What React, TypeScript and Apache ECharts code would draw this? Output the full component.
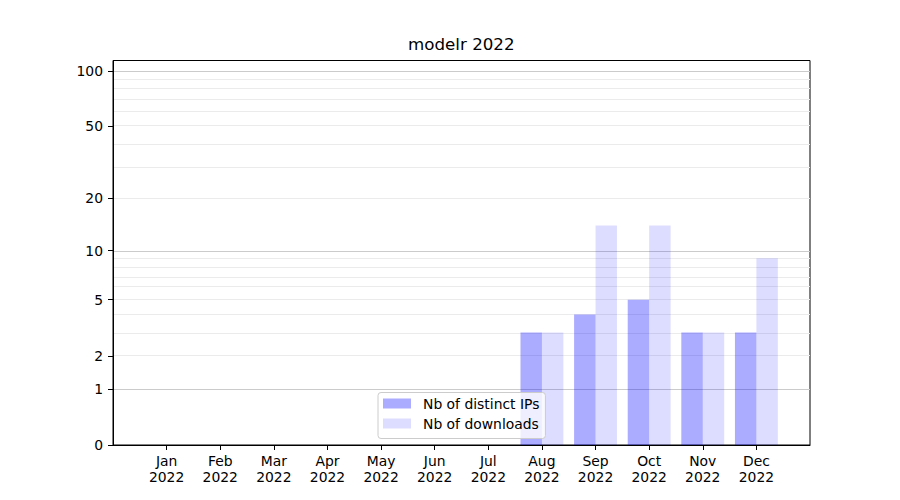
import React, { useEffect, useRef } from "react";
import * as echarts from "echarts";

const months = ["Jan", "Feb", "Mar", "Apr", "May", "Jun", "Jul", "Aug", "Sep", "Oct", "Nov", "Dec"];
const year = "2022";
const distinctIPs = [0, 0, 0, 0, 0, 0, 0, 3, 4, 5, 3, 3];
const downloads = [0, 0, 0, 0, 0, 0, 0, 3, 14, 14, 3, 9];
const yTickValues = [0, 1, 2, 5, 10, 20, 50, 100];
const majorGrid = [1, 10, 100];
const minorGrid = [2, 3, 4, 5, 6, 7, 8, 9, 20, 30, 40, 50, 60, 70, 80, 90];

const t = (v: number) => Math.log10(1 + v);
const FONT = "DejaVu Sans";

export default function App() {
  const ref = useRef<HTMLDivElement>(null);
  useEffect(() => {
    if (!ref.current) return;
    const chart = echarts.init(ref.current, undefined, { renderer: "svg" });
    const cats = ["", ...months.map((m) => `${m}\n${year}`), ""];
    const pad = (arr: number[]) => ["-", ...arr.map((v) => t(v)), "-"];
    const gridLines = [
      ...minorGrid.map((v) => ({ yAxis: t(v), lineStyle: { color: "#ebebeb", width: 1, type: "solid" } })),
      ...majorGrid.map((v) => ({ yAxis: t(v), lineStyle: { color: "#cbcbcb", width: 1, type: "solid" } })),
    ];
    chart.setOption({
      animation: false,
      backgroundColor: "#ffffff",
      textStyle: { fontFamily: FONT },
      title: {
        text: `modelr ${year}`,
        left: 408,
        top: 35,
        padding: 0,
        textStyle: { fontFamily: FONT, fontSize: 16.7, fontWeight: "normal", color: "#000" },
      },
      grid: {
        left: 113,
        top: 60.5,
        width: 697,
        height: 384.5,
        show: true,
        borderColor: "#000",
        borderWidth: 1,
        backgroundColor: "transparent",
      },
      legend: {
        orient: "vertical",
        left: 378,
        top: 392.5,
        icon: "rect",
        itemWidth: 28,
        itemHeight: 10,
        itemGap: 6,
        padding: [4, 6, 8, 5],
        backgroundColor: "rgba(255,255,255,0.8)",
        borderColor: "#cccccc",
        borderWidth: 1,
        borderRadius: 3,
        textStyle: { fontFamily: FONT, fontSize: 13.9, color: "#000", padding: [0, 0, 0, 7] },
        data: ["Nb of distinct IPs", "Nb of downloads"],
      },
      xAxis: {
        type: "category",
        data: cats,
        boundaryGap: false,
        axisLine: { lineStyle: { color: "#000", width: 1 } },
        axisTick: {
          show: true,
          length: 5,
          interval: (index: number) => index > 0 && index < cats.length - 1,
          lineStyle: { color: "#000" },
        },
        axisLabel: {
          interval: 0,
          margin: 8,
          fontFamily: FONT,
          fontSize: 13.9,
          lineHeight: 16,
          color: "#000",
        },
        splitLine: { show: false },
      },
      yAxis: {
        type: "value",
        min: 0,
        max: 2.0594,
        axisLine: { show: true, lineStyle: { color: "#000", width: 1 } },
        axisTick: { show: true, length: 5, customValues: yTickValues.map(t), lineStyle: { color: "#000" } },
        axisLabel: {
          customValues: yTickValues.map(t),
          margin: 10,
          fontFamily: FONT,
          fontSize: 13.9,
          color: "#000",
          formatter: (v: number) => String(Math.round(Math.pow(10, v) - 1)),
        },
        splitLine: { show: false },
      },
      series: [
        {
          name: "gridlines",
          type: "line",
          data: [],
          silent: true,
          z: 0,
          markLine: {
            silent: true,
            z: 0,
            symbol: ["none", "none"],
            label: { show: false },
            animation: false,
            data: gridLines,
          },
        },
        {
          name: "Nb of distinct IPs",
          type: "bar",
          data: pad(distinctIPs),
          barWidth: "40%",
          barGap: "0%",
          z: 2,
          itemStyle: { color: "rgba(0,0,255,0.33)" },
        },
        {
          name: "Nb of downloads",
          type: "bar",
          data: pad(downloads),
          barWidth: "40%",
          barGap: "0%",
          z: 2,
          itemStyle: { color: "rgba(0,0,255,0.133)" },
        },
      ],
    });
    return () => chart.dispose();
  }, []);
  return <div ref={ref} style={{ width: 900, height: 500, margin: -8 }} />;
}
